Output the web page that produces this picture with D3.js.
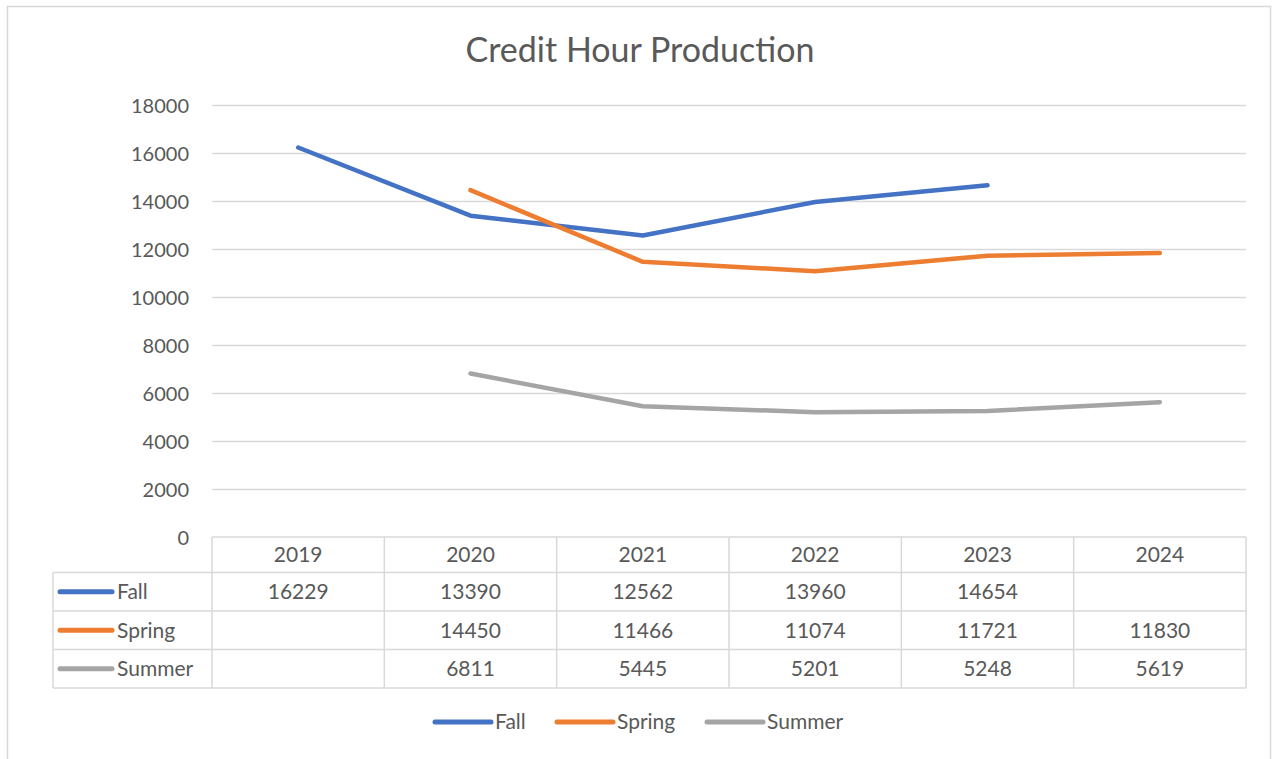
<!DOCTYPE html>
<html><head><meta charset="utf-8">
<script src="https://cdn.jsdelivr.net/npm/d3@7"></script>
<style>html,body{margin:0;padding:0;background:#fff;}svg{display:block;}</style>
</head><body>
<svg id="c" width="1276" height="759"></svg>
<script>
const years = ["2019","2020","2021","2022","2023","2024"];
const seriesNames = ["Fall","Spring","Summer"];
const fall   = [16229, 13390, 12562, 13960, 14654, null];
const spring = [null, 14450, 11466, 11074, 11721, 11830];
const summer = [null, 6811, 5445, 5201, 5248, 5619];
const colors = ["#4472C4","#ED7D31","#A5A5A5"];
const yTicks = [0,2000,4000,6000,8000,10000,12000,14000,16000,18000];
const title = "Credit Hour Production";

const values = [fall, spring, summer];
const svg = d3.select("#c");
const font = "Lato, 'Open Sans', sans-serif";
const textColor = "#595959";
const gridColor = "#D9D9D9";

// chart border
svg.append("rect").attr("x",7.5).attr("y",6.5).attr("width",1263).attr("height",770)
  .attr("fill","#fff").attr("stroke","#D9D9D9").attr("stroke-width",1.5);

const x = d3.scaleBand().domain(years).range([212,1246]);
const y = d3.scaleLinear().domain([0,18000]).range([537,105]);

svg.append("text").attr("x",640).attr("y",62).attr("text-anchor","middle")
  .attr("font-family",font).attr("font-size",34).attr("fill",textColor).text(title);

// gridlines
const yAxis = d3.axisLeft(y).tickValues(yTicks).tickSize(-(1246-212)).tickFormat(d3.format("d"));
const gy = svg.append("g").attr("transform","translate(212,0)").call(yAxis);
gy.select(".domain").remove();
gy.selectAll(".tick line").attr("stroke",gridColor).attr("stroke-width",1.5)
  .filter(d=>d===0).remove();
gy.selectAll(".tick text").attr("x",-23).attr("dy","0.35em").attr("font-family",font)
  .attr("font-size",20).attr("fill",textColor);

// data table
const rowEdges = [537, 572.5, 611, 649.5, 688];
const tableLeft = 53, tableRight = 1246;
const fs = 21;
const tg = svg.append("g");
tg.append("line").attr("x1",212).attr("x2",tableRight).attr("y1",rowEdges[0]).attr("y2",rowEdges[0]);
for (let i=1;i<rowEdges.length;i++) tg.append("line").attr("x1",tableLeft).attr("x2",tableRight).attr("y1",rowEdges[i]).attr("y2",rowEdges[i]);
tg.append("line").attr("x1",tableLeft).attr("x2",tableLeft).attr("y1",rowEdges[1]).attr("y2",rowEdges[4]);
years.forEach(yr=>{
  tg.append("line").attr("x1",x(yr)).attr("x2",x(yr)).attr("y1",rowEdges[0]).attr("y2",rowEdges[4]);
});
tg.append("line").attr("x1",tableRight).attr("x2",tableRight).attr("y1",rowEdges[0]).attr("y2",rowEdges[4]);
tg.selectAll("line").attr("stroke",gridColor).attr("stroke-width",1.5);

tg.selectAll("text.hdr").data(years).join("text").attr("class","hdr")
  .attr("x",d=>x(d)+x.bandwidth()/2).attr("y",(rowEdges[0]+rowEdges[1])/2).attr("dy","0.35em")
  .attr("text-anchor","middle").attr("font-family",font).attr("font-size",fs).attr("fill",textColor).text(d=>d);

seriesNames.forEach((name,i)=>{
  const cy = (rowEdges[i+1]+rowEdges[i+2])/2;
  tg.append("line").attr("x1",60).attr("x2",112).attr("y1",cy).attr("y2",cy)
    .attr("stroke",colors[i]).attr("stroke-width",5).attr("stroke-linecap","round");
  tg.append("text").attr("x",117).attr("y",cy).attr("dy","0.35em").attr("font-family",font)
    .attr("font-size",fs).attr("fill",textColor).text(name);
  values[i].forEach((v,j)=>{
    if (v==null) return;
    tg.append("text").attr("x",x(years[j])+x.bandwidth()/2).attr("y",cy).attr("dy","0.35em")
      .attr("text-anchor","middle").attr("font-family",font).attr("font-size",fs).attr("fill",textColor).text(v);
  });
});

// lines
const line = d3.line().defined(d=>d.v!=null).x(d=>x(d.yr)+x.bandwidth()/2).y(d=>y(d.v));
values.forEach((vals,i)=>{
  svg.append("path").datum(years.map((yr,j)=>({yr,v:vals[j]})))
    .attr("d",line).attr("fill","none").attr("stroke",colors[i]).attr("stroke-width",4.5)
    .attr("stroke-linecap","round").attr("stroke-linejoin","round");
});

// bottom legend
const legX = [435, 557, 707];
seriesNames.forEach((name,i)=>{
  svg.append("line").attr("x1",legX[i]).attr("x2",legX[i]+56).attr("y1",722).attr("y2",722)
    .attr("stroke",colors[i]).attr("stroke-width",5).attr("stroke-linecap","round");
  svg.append("text").attr("x",legX[i]+60).attr("y",722).attr("dy","0.35em").attr("font-family",font)
    .attr("font-size",fs).attr("fill",textColor).text(name);
});
</script>
</body></html>
